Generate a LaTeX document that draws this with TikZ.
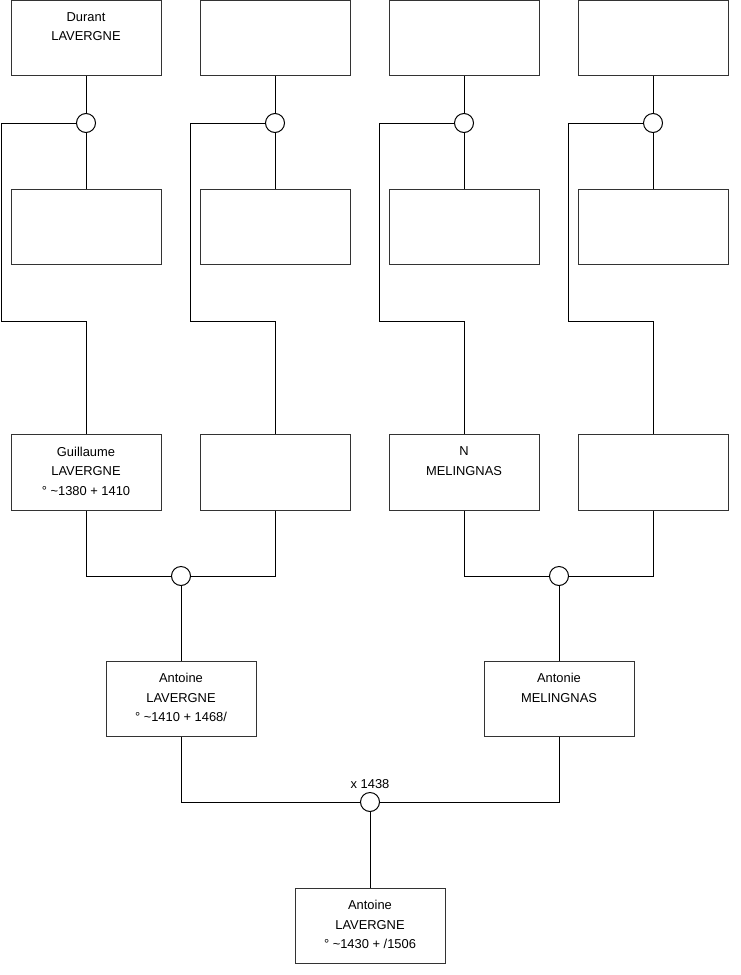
\documentclass[tikz,border=0pt]{standalone}
\usepackage{fontspec}
\setmainfont{Liberation Sans}
\usepackage{tikz}
\usetikzlibrary{positioning, calc}

\tikzset{
    person/.style={draw=black!80, line width=1pt, minimum width=150pt, minimum height=75.5pt, inner sep=0pt},
    who/.style={label={[anchor=north, yshift=-12.2pt, align=center, inner sep=0pt,
        font=\fontsize{12.9}{19.5}\selectfont]north:{#1}}},
    couple/.style={circle, draw, fill=white, line width=1pt, minimum size=19pt, inner sep=0pt},
    link/.style={line width=1pt}
}

\begin{document}
\begin{tikzpicture}[x=1pt, y=-1pt]
        \useasboundingbox (0,0) rectangle (740,975);

        % ==========================================
        % TOP: Grandparents Generation
        % ==========================================
        % 1. Fathers (top row)
        \node[person, who={Durant\\LAVERGNE}] (f1) at (86,38) {};
        \node[person] (f2) at (275,38) {};
        \node[person] (f3) at (464,38) {};
        \node[person] (f4) at (653,38) {};

        % 2. Mothers (second row)
        \node[person] (m1) at (86,227) {};
        \node[person] (m2) at (275,227) {};
        \node[person] (m3) at (464,227) {};
        \node[person] (m4) at (653,227) {};

        % 3. Couples
        \node[couple] (u1) at (86,123) {};
        \node[couple] (u2) at (275,123) {};
        \node[couple] (u3) at (464,123) {};
        \node[couple] (u4) at (653,123) {};

        % 4. Bend points of the child lines
        \coordinate (k1) at (1,321);
        \coordinate (k2) at (190,321);
        \coordinate (k3) at (379,321);
        \coordinate (k4) at (568,321);

        % ==========================================
        % MIDDLE: Parents Generation
        % ==========================================
        \node[person, who={Guillaume\\LAVERGNE\\\textdegree\ \textasciitilde1380 + 1410}] (g1) at (86,472.5) {};
        \node[person] (g2) at (275,472.5) {};
        \node[person, who={N\\MELINGNAS}] (g3) at (464,472.5) {};
        \node[person] (g4) at (653,472.5) {};

        \node[couple] (v1) at (181,576) {};
        \node[couple] (v2) at (559,576) {};

        \node[person, who={Antoine\\LAVERGNE\\\textdegree\ \textasciitilde1410 + 1468/}] (a1) at (181,699) {};
        \node[person, who={Antonie\\MELINGNAS}] (a2) at (559,699) {};

        % ==========================================
        % BOTTOM: Child
        % ==========================================
        \node[couple] (w) at (370,802) {};
        \node[above=3pt of w, inner sep=0pt, font=\fontsize{12.9}{15}\selectfont] (wd) {x 1438};
        \node[person, who={Antoine\\LAVERGNE\\\textdegree\ \textasciitilde1430 + /1506}] (c) at (370,926) {};

        % ==========================================
        % CONNECTIONS
        % ==========================================
        \foreach \i in {1,...,4} {
            \draw[link] (f\i) -- (u\i);
            \draw[link] (u\i) -- (m\i);
            \draw[link] (u\i.west) -| (k\i) -| (g\i.north);
        }
        \draw[link] (g1.south) |- (v1.west);
        \draw[link] (g2.south) |- (v1.east);
        \draw[link] (g3.south) |- (v2.west);
        \draw[link] (g4.south) |- (v2.east);
        \draw[link] (v1) -- (a1);
        \draw[link] (v2) -- (a2);

        \draw[link] (a1.south) |- (w.west);
        \draw[link] (a2.south) |- (w.east);
        \draw[link] (w) -- (c);
\end{tikzpicture}
\end{document}
